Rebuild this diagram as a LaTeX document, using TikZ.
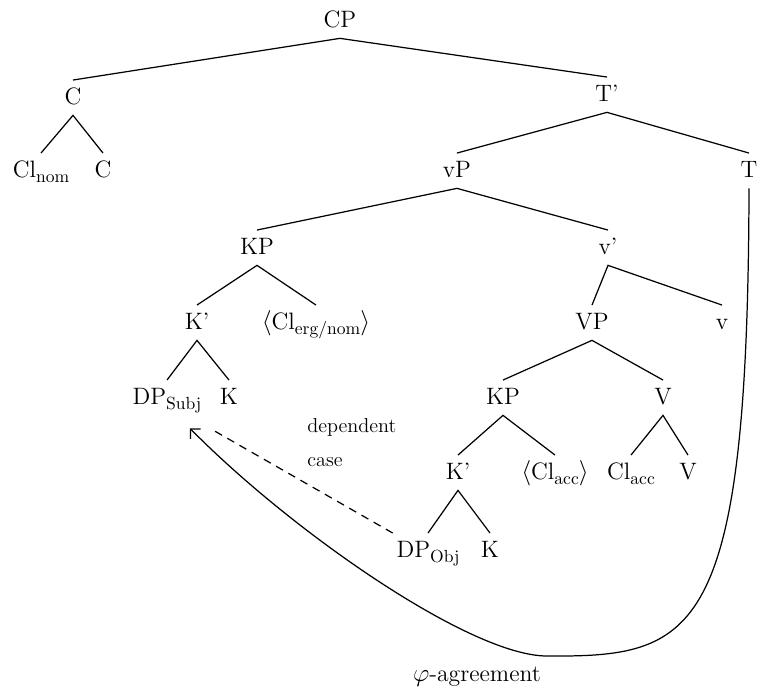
\documentclass[tikz,border=0pt]{standalone}
\usepackage{fontspec}
\usetikzlibrary{arrows.meta}
\newcommand{\sbs}[1]{\raisebox{-2.3pt}{\fontsize{10}{12}\selectfont #1}}

\begin{document}
\begin{tikzpicture}[x=0.02cm, y=-0.02cm,
		tn/.style={anchor=base, inner sep=2pt, text height=12pt, text depth=3.7pt, font=\fontsize{13.5}{16}\selectfont},
		branch/.style={line width=0.7pt},
		note/.style={anchor=base west, inner sep=0pt, font=\fontsize{11.5}{14}\selectfont}]
		\useasboundingbox (0,0) rectangle (758,692);
		\node[tn](cp) at (340,28) {CP};
		\node[tn](c) at (73,105) {C};
		\node[tn](tbar) at (607,102) {T'};
		\node[tn](clnom) at (41,178) {Cl\sbs{nom}};
		\node[tn](cc) at (103,178) {C};
		\node[tn](vp) at (457,178) {vP};
		\node[tn](t) at (749,178) {T};
		\node[tn](kp) at (257,255) {KP};
		\node[tn](vbar) at (608,255) {v'};
		\node[tn](kbar) at (197,330) {K'};
		\node[tn](clerg) at (316,330) {$\langle$Cl\sbs{erg/nom}$\rangle$};
		\node[tn](vpp) at (592,330) {VP};
		\node[tn](vsml) at (722,330) {v};
		\node[tn](dpsubj) at (167,405) {DP\sbs{Subj}};
		\node[tn](ksubj) at (229,405) {K};
		\node[tn](kpobj) at (503,405) {KP};
		\node[tn](vhead) at (663,405) {V};
		\node[tn](kbarobj) at (458,480) {K'};
		\node[tn](clacca) at (555,480) {$\langle$Cl\sbs{acc}$\rangle$};
		\node[tn](clacc) at (631,480) {Cl\sbs{acc}};
		\node[tn](vlow) at (688,480) {V};
		\node[tn](dpobj) at (428,558) {DP\sbs{Obj}};
		\node[tn](kobj) at (490,558) {K};
		\node[note](dep) at (307,433) {dependent};
		\node[note](cas) at (307,467) {case};
		\node[tn, anchor=base](agr) at (477,682) {$\varphi$-agreement};
		\coordinate (agrlow) at (547,656);
		\draw [branch] (c.north) -- (cp.south) -- (tbar.north);
		\draw [branch] (clnom.north) -- (c.south) -- (cc.north);
		\draw [branch] (vp.north) -- (tbar.south) -- (t.north);
		\draw [branch] (kp.north) -- (vp.south) -- (vbar.north);
		\draw [branch] (kbar.north) -- (kp.south) -- (clerg.north);
		\draw [branch] (vpp.north) -- (vbar.south) -- (vsml.north);
		\draw [branch] (dpsubj.north) -- (kbar.south) -- (ksubj.north);
		\draw [branch] (kpobj.north) -- (vpp.south) -- (vhead.north);
		\draw [branch] (kbarobj.north) -- (kpobj.south) -- (clacca.north);
		\draw [branch] (clacc.north) -- (vhead.south) -- (vlow.north);
		\draw [branch] (dpobj.north) -- (kbarobj.south) -- (kobj.north);
		\draw [branch, dash pattern=on 4.5pt off 3.5pt] (dpobj.north west) -- ([shift={(43,13)}]dpsubj.south);
		\draw [branch, -{Straight Barb[length=4pt,width=8pt]}]
		(t.south) .. controls (748,640) and (695,657) .. (agrlow)
		.. controls (470,656) and (290,530) .. ([shift={(23,13)}]dpsubj.south);
	\end{tikzpicture}
\end{document}
